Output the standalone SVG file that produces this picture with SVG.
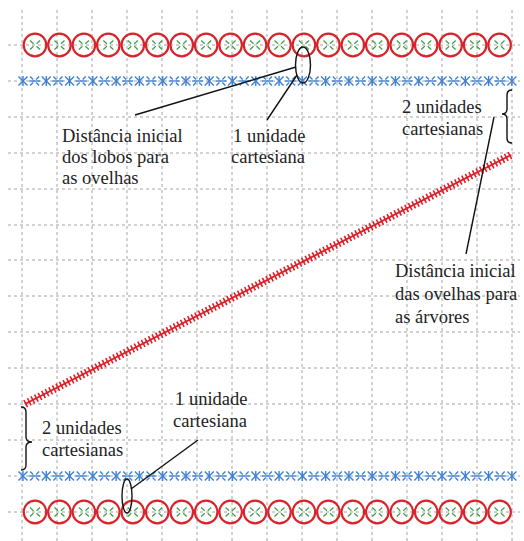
<svg xmlns="http://www.w3.org/2000/svg" xmlns:xlink="http://www.w3.org/1999/xlink" width="524" height="541" viewBox="0 0 524 541">
<style>
.grid line{stroke:#a4a4a4;stroke-width:1;stroke-dasharray:3 3}
.lbl{font-family:"Liberation Serif","Times New Roman",serif;font-size:18.5px;fill:#222}
.conn{stroke:#111;stroke-width:1.4;fill:none}
</style>
<defs>
<g id="circ">
<circle r="11.3" fill="none" stroke="#d9232a" stroke-width="2.2"/>
<g stroke="#3aa040" stroke-width="1.2">
<line x1="-5" y1="-4.5" x2="-1.5" y2="-1.2"/>
<line x1="5" y1="-4.5" x2="1.5" y2="-1.2"/>
<line x1="-5" y1="4.5" x2="-1.5" y2="1.2"/>
<line x1="5" y1="4.5" x2="1.5" y2="1.2"/>
</g>
</g>
<g id="astA" stroke="#3f82d4" stroke-width="1.4">
<line x1="-4.5" y1="-4.5" x2="4.5" y2="4.5"/>
<line x1="-4.5" y1="4.5" x2="4.5" y2="-4.5"/>
<line x1="0" y1="-5" x2="0" y2="5"/>
</g>
<g id="astB" stroke="#3f82d4" stroke-width="1.4">
<line x1="-4.5" y1="-4.5" x2="-1.5" y2="-1.5"/>
<line x1="4.5" y1="-4.5" x2="1.5" y2="-1.5"/>
<line x1="-4.5" y1="4.5" x2="-1.5" y2="1.5"/>
<line x1="4.5" y1="4.5" x2="1.5" y2="1.5"/>
<line x1="-5.5" y1="0" x2="5.5" y2="0"/>
</g>
<g id="circRow">
<use xlink:href="#circ" x="35"/><use xlink:href="#circ" x="59.45"/><use xlink:href="#circ" x="83.9"/><use xlink:href="#circ" x="108.35"/><use xlink:href="#circ" x="132.8"/>
<use xlink:href="#circ" x="157.25"/><use xlink:href="#circ" x="181.7"/><use xlink:href="#circ" x="206.15"/><use xlink:href="#circ" x="230.6"/><use xlink:href="#circ" x="255.05"/>
<use xlink:href="#circ" x="279.5"/><use xlink:href="#circ" x="303.95"/><use xlink:href="#circ" x="328.4"/><use xlink:href="#circ" x="352.85"/><use xlink:href="#circ" x="377.3"/>
<use xlink:href="#circ" x="401.75"/><use xlink:href="#circ" x="426.2"/><use xlink:href="#circ" x="450.65"/><use xlink:href="#circ" x="475.1"/><use xlink:href="#circ" x="499.55"/>
</g>
<g id="blueRow">
<use xlink:href="#astA" x="23"/><use xlink:href="#astB" x="34.64"/><use xlink:href="#astA" x="46.28"/><use xlink:href="#astB" x="57.92"/><use xlink:href="#astA" x="69.56"/>
<use xlink:href="#astB" x="81.2"/><use xlink:href="#astA" x="92.84"/><use xlink:href="#astB" x="104.48"/><use xlink:href="#astA" x="116.12"/><use xlink:href="#astB" x="127.76"/>
<use xlink:href="#astA" x="139.4"/><use xlink:href="#astB" x="151.04"/><use xlink:href="#astA" x="162.68"/><use xlink:href="#astB" x="174.32"/><use xlink:href="#astA" x="185.96"/>
<use xlink:href="#astB" x="197.6"/><use xlink:href="#astA" x="209.24"/><use xlink:href="#astB" x="220.88"/><use xlink:href="#astA" x="232.52"/><use xlink:href="#astB" x="244.16"/>
<use xlink:href="#astA" x="255.8"/><use xlink:href="#astB" x="267.44"/><use xlink:href="#astA" x="279.08"/><use xlink:href="#astB" x="290.72"/><use xlink:href="#astA" x="302.36"/>
<use xlink:href="#astB" x="314"/><use xlink:href="#astA" x="325.64"/><use xlink:href="#astB" x="337.28"/><use xlink:href="#astA" x="348.92"/><use xlink:href="#astB" x="360.56"/>
<use xlink:href="#astA" x="372.2"/><use xlink:href="#astB" x="383.84"/><use xlink:href="#astA" x="395.48"/><use xlink:href="#astB" x="407.12"/><use xlink:href="#astA" x="418.76"/>
<use xlink:href="#astB" x="430.4"/><use xlink:href="#astA" x="442.04"/><use xlink:href="#astB" x="453.68"/><use xlink:href="#astA" x="465.32"/><use xlink:href="#astB" x="476.96"/>
<use xlink:href="#astA" x="488.6"/><use xlink:href="#astB" x="500.24"/><use xlink:href="#astA" x="511.88"/>
</g>
</defs>
<rect width="524" height="541" fill="#ffffff"/>
<g class="grid" id="grid">
<line x1="22" y1="10" x2="22" y2="541"/><line x1="57" y1="10" x2="57" y2="541"/><line x1="92" y1="10" x2="92" y2="541"/><line x1="127" y1="10" x2="127" y2="541"/><line x1="162" y1="10" x2="162" y2="541"/>
<line x1="197" y1="10" x2="197" y2="541"/><line x1="232" y1="10" x2="232" y2="541"/><line x1="267" y1="10" x2="267" y2="541"/><line x1="302" y1="10" x2="302" y2="541"/><line x1="337" y1="10" x2="337" y2="541"/>
<line x1="372" y1="10" x2="372" y2="541"/><line x1="407" y1="10" x2="407" y2="541"/><line x1="442" y1="10" x2="442" y2="541"/><line x1="477" y1="10" x2="477" y2="541"/><line x1="512" y1="10" x2="512" y2="541"/>
<line x1="8" y1="45" x2="520" y2="45"/><line x1="8" y1="81" x2="520" y2="81"/><line x1="8" y1="117" x2="520" y2="117"/><line x1="8" y1="153" x2="520" y2="153"/><line x1="8" y1="189" x2="520" y2="189"/>
<line x1="8" y1="225" x2="520" y2="225"/><line x1="8" y1="260" x2="520" y2="260"/><line x1="8" y1="296" x2="520" y2="296"/><line x1="8" y1="332" x2="520" y2="332"/><line x1="8" y1="368" x2="520" y2="368"/>
<line x1="8" y1="404" x2="520" y2="404"/><line x1="8" y1="440" x2="520" y2="440"/><line x1="8" y1="476" x2="520" y2="476"/><line x1="8" y1="512" x2="520" y2="512"/>
</g>
<g id="wolves-top"><use xlink:href="#circRow" y="45"/></g>
<g id="sheep-top"><use xlink:href="#blueRow" y="81"/></g>
<g id="sheep-bottom"><use xlink:href="#blueRow" y="476"/></g>
<g id="wolves-bottom"><use xlink:href="#circRow" y="512"/></g>
<g id="trees">
<line x1="25" y1="404" x2="511" y2="155" stroke="#dd1f28" stroke-width="1.8"/>
<line x1="25" y1="404" x2="511" y2="155" stroke="#dd1f28" stroke-width="8" stroke-dasharray="1.6 2.4"/>
</g>
<g id="connectors">
<ellipse class="conn" cx="303" cy="65" rx="7.5" ry="18"/>
<line class="conn" x1="296" y1="67" x2="135" y2="115"/>
<line class="conn" x1="297" y1="75" x2="267" y2="120"/>
<path class="conn" d="M512,90 Q507,90 507,95 L507,109 Q507,114 502,114 Q507,114 507,119 L507,138 Q507,143 512,143"/>
<line class="conn" x1="494" y1="117" x2="466" y2="254"/>
<path class="conn" d="M21,407 Q26,407 26,412 L26,437 Q26,442 32,442 Q26,442 26,447 L26,465 Q26,470 21,470"/>
<ellipse class="conn" cx="127" cy="496" rx="5" ry="17"/>
<line class="conn" x1="198" y1="440" x2="131" y2="489"/>
</g>
<g id="label-lobos">
<text class="lbl" x="62" y="142">Distância inicial</text>
<text class="lbl" x="62" y="163">dos lobos para</text>
<text class="lbl" x="62" y="184">as ovelhas</text>
</g>
<g id="label-1u-top">
<text class="lbl" x="233" y="142">1 unidade</text>
<text class="lbl" x="231" y="163">cartesiana</text>
</g>
<g id="label-2u-top">
<text class="lbl" x="402" y="113">2 unidades</text>
<text class="lbl" x="402" y="135">cartesianas</text>
</g>
<g id="label-arvores">
<text class="lbl" x="395" y="277">Distância inicial</text>
<text class="lbl" x="395" y="300">das ovelhas para</text>
<text class="lbl" x="395" y="323">as árvores</text>
</g>
<g id="label-2u-bottom">
<text class="lbl" x="42" y="434">2 unidades</text>
<text class="lbl" x="42" y="456">cartesianas</text>
</g>
<g id="label-1u-bottom">
<text class="lbl" x="175" y="405">1 unidade</text>
<text class="lbl" x="173" y="427">cartesiana</text>
</g>
</svg>
